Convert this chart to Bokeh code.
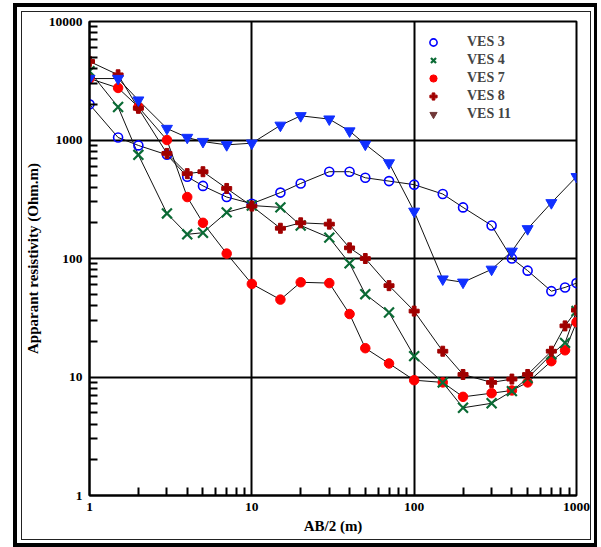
from bokeh.plotting import figure
from bokeh.models import Legend, LegendItem, FixedTicker, InlineStyleSheet
from bokeh.embed import file_html
from bokeh.resources import INLINE

# Electrode half-spacing AB/2 (m)
ab2 = [1, 1.5, 2, 3, 4, 5, 7, 10, 15, 20, 30, 40, 50, 70, 100, 150, 200,
       300, 400, 500, 700, 850, 1000]
ab2_ves11 = [1, 1.5, 2, 3, 4, 5, 7, 10, 15, 20, 30, 40, 50, 70, 100, 150,
             200, 300, 400, 500, 700, 1000]

# Apparent resistivity (Ohm.m) for each sounding
ves3 = [2000, 1050, 900, 750, 490, 410, 330, 290, 360, 430, 540, 540, 480,
        450, 420, 350, 270, 190, 100, 79, 53, 57, 62]
ves4 = [3800, 1900, 750, 240, 160, 165, 245, 280, 270, 190, 150, 91, 50,
        35, 15, 9, 5.5, 6, 7.6, 9.8, 15.5, 19.4, 36]
ves7 = [3300, 2750, 1900, 1000, 330, 200, 110, 61, 45, 63, 62, 34, 17.5,
        13, 9.4, 9, 6.8, 7.3, 7.7, 9, 13.6, 16.8, 29]
ves8 = [4600, 3550, 1850, 770, 520, 540, 390, 277, 180, 200, 195, 123, 100,
        59, 36, 16.5, 10.5, 9, 9.6, 10.5, 16.5, 27, 36.6]
ves11 = [3300, 3300, 2170, 1250, 1050, 970, 910, 940, 1330, 1600, 1500,
         1190, 920, 640, 250, 67, 63, 81, 115, 178, 295, 490]

x_ticks = [1, 10, 100, 1000]
y_ticks = [1, 10, 100, 1000, 10000]

SERIF = "Liberation Serif"

p = figure(width=601, height=547, x_axis_type="log", y_axis_type="log",
           x_range=(1, 1000), y_range=(1, 10000), title=None,
           output_backend="svg", toolbar_location=None,
           min_border_left=89, min_border_right=25,
           min_border_top=21, min_border_bottom=52)
p.background_fill_color = "white"
p.border_fill_color = "white"
p.outline_line_color = "black"
p.outline_line_width = 2


def minor_between(major):
    out = []
    for a in major[:-1]:
        out += [a * k for k in range(2, 10)]
    return out


p.xaxis.ticker = FixedTicker(ticks=x_ticks, minor_ticks=minor_between(x_ticks))
p.yaxis.ticker = FixedTicker(ticks=y_ticks, minor_ticks=minor_between(y_ticks))
p.xaxis.major_label_overrides = {t: str(t) for t in x_ticks}
p.yaxis.major_label_overrides = {t: str(t) for t in y_ticks}

for ax in (p.xaxis[0], p.yaxis[0]):
    ax.axis_line_width = 2
    ax.axis_line_color = "black"
    ax.major_tick_in = 0
    ax.major_tick_out = 0
    ax.minor_tick_in = 8
    ax.minor_tick_out = 0
    ax.minor_tick_line_width = 2
    ax.minor_tick_line_color = "black"
    ax.major_label_text_font = SERIF
    ax.major_label_text_font_style = "bold"
    ax.major_label_text_font_size = "13.5px"
    ax.major_label_text_color = "black"
    ax.axis_label_text_font = SERIF
    ax.axis_label_text_font_style = "bold"
    ax.axis_label_text_font_size = "15px"
    ax.axis_label_text_color = "black"

p.xaxis.axis_label = "AB/2 (m)"
p.yaxis.axis_label = "Apparant resistivity (Ohm.m)"
p.xaxis.major_label_standoff = 7
p.yaxis.major_label_standoff = 7
p.xaxis.axis_label_standoff = 4
p.yaxis.axis_label_standoff = 5

for g in (p.xgrid[0], p.ygrid[0]):
    g.grid_line_color = "black"
    g.grid_line_width = 2

# connecting lines under the markers
for xs, ys in ((ab2, ves3), (ab2, ves7), (ab2, ves4), (ab2, ves8), (ab2_ves11, ves11)):
    p.line(xs, ys, line_color="#111111", line_width=1)

r3 = p.scatter(ab2, ves3, marker="circle", size=9, fill_color=None,
               line_color="#0000ff", line_width=1.6)
r7 = p.scatter(ab2, ves7, marker="circle", size=9.5, fill_color="#ff0000",
               line_color="#ff0000")
r4 = p.scatter(ab2, ves4, marker="x", size=14, line_color="#0b6b35",
               line_width=2.2)
r8 = p.scatter(ab2, ves8, marker="plus", size=10, fill_color="#a00000",
               line_color="#a00000")
r11 = p.scatter(ab2_ves11, ves11, marker="inverted_triangle", size=11,
                fill_color="#1030ff", line_color="#1030ff")
# legend key for VES 11, placed outside the visible ranges
key11 = p.scatter(x=[1e-6], y=[1e-6], marker="inverted_triangle", size=11,
                  fill_color="#703838", line_color="#703838")

legend = Legend(items=[LegendItem(label="VES 3", renderers=[r3]),
                       LegendItem(label="VES 4", renderers=[r4]),
                       LegendItem(label="VES 7", renderers=[r7]),
                       LegendItem(label="VES 8", renderers=[r8]),
                       LegendItem(label="VES 11", renderers=[key11])],
                location=(334, 372), padding=0, margin=0, spacing=0,
                border_line_color=None, background_fill_alpha=0,
                glyph_width=20, glyph_height=18, label_height=17,
                label_standoff=24, label_text_font=SERIF,
                label_text_font_style="bold", label_text_font_size="14px")
p.add_layout(legend)

# double page border drawn over the canvas
p.stylesheets = [InlineStyleSheet(css="""
:host::before {
  content: ""; position: absolute; z-index: 20; pointer-events: none;
  left: 13px; top: 3px; width: 584px; height: 544px;
  box-sizing: border-box;
  border-style: solid; border-color: #000;
  border-width: 4px 3px 4px 4px;
}
:host::after {
  content: ""; position: absolute; z-index: 21; pointer-events: none;
  left: 21px; top: 11px; width: 570px; height: 529px;
  box-sizing: border-box; border: 1.5px solid #222;
}
""")]

open("out.html", "w").write(file_html(p, INLINE))
